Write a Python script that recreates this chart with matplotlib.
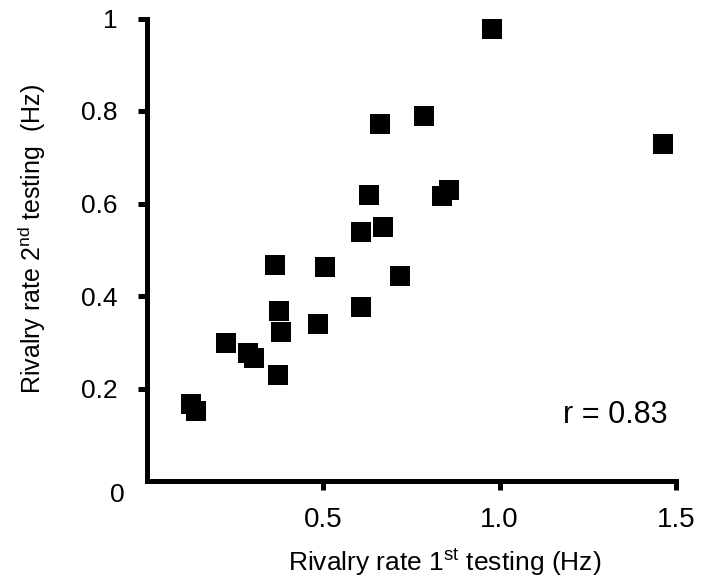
import matplotlib.pyplot as plt

plt.rcParams['font.family'] = ['Liberation Sans', 'DejaVu Sans']
plt.rcParams['mathtext.fontset'] = 'custom'
plt.rcParams['mathtext.rm'] = 'Liberation Sans'
plt.rcParams['mathtext.it'] = 'Liberation Sans:italic'

# rivalry rate (Hz) per observer, first and second testing
rate_1st = [0.978, 0.662, 0.786, 1.464, 0.629, 0.837, 0.857, 0.608, 0.670,
            0.363, 0.505, 0.718, 0.375, 0.608, 0.486, 0.379, 0.224, 0.287,
            0.304, 0.371, 0.126, 0.140]
rate_2nd = [0.977, 0.772, 0.789, 0.729, 0.618, 0.616, 0.629, 0.538, 0.549,
            0.467, 0.463, 0.443, 0.368, 0.376, 0.339, 0.322, 0.298, 0.277,
            0.266, 0.229, 0.167, 0.151]

x_ticks = [0.5, 1.0, 1.5]
x_tick_labels = ['0.5', '1.0', '1.5']
y_ticks = [0.2, 0.4, 0.6, 0.8, 1.0]
y_tick_labels = ['0.2', '0.4', '0.6', '0.8', '1']
r_text = 'r = 0.83'

fig = plt.figure(figsize=(7.01, 5.86), dpi=100)
ax = fig.add_axes([147 / 701, 1 - 481 / 586, 529 / 701, 462.5 / 586])

ax.plot(rate_1st, rate_2nd, linestyle='none', marker='s', markersize=14,
        color='black', markeredgewidth=0, clip_on=False)

ax.set_xlim(0, 1.5)
ax.set_ylim(0, 1.0)

for side in ['top', 'right']:
    ax.spines[side].set_visible(False)
for side in ['left', 'bottom']:
    ax.spines[side].set_linewidth(3.6)
    ax.spines[side].set_capstyle('projecting')

ax.set_xticks(x_ticks)
ax.set_xticklabels(x_tick_labels)
ax.set_yticks(y_ticks)
ax.set_yticklabels(y_tick_labels)
ax.tick_params(axis='both', direction='out', length=6.5, width=3.6)
ax.tick_params(axis='x', pad=12, labelsize=20)
ax.tick_params(axis='y', pad=15, labelsize=19)

# the lone "0" sits below the corner
ax.annotate('0', xy=(0, 0), xycoords='data', xytext=(-16, -10),
            textcoords='offset points', ha='right', va='center', fontsize=19)

ax.set_xlabel(r'Rivalry rate 1$^{\mathrm{st}}$ testing (Hz)', fontsize=19,
              va='center')
ax.xaxis.set_label_coords((445 - 147) / 529, -(563 - 481) / 462.5)
ax.set_ylabel(r'Rivalry rate 2$^{\mathrm{nd}}$ testing  (Hz)', fontsize=18,
              va='center')
ax.yaxis.set_label_coords((32 - 147) / 529, (481 - 239) / 462.5)

ax.text(0.985, 0.143, r_text, transform=ax.transAxes, ha='right',
        va='center', fontsize=22)

fig.savefig('out.png', dpi=100)
